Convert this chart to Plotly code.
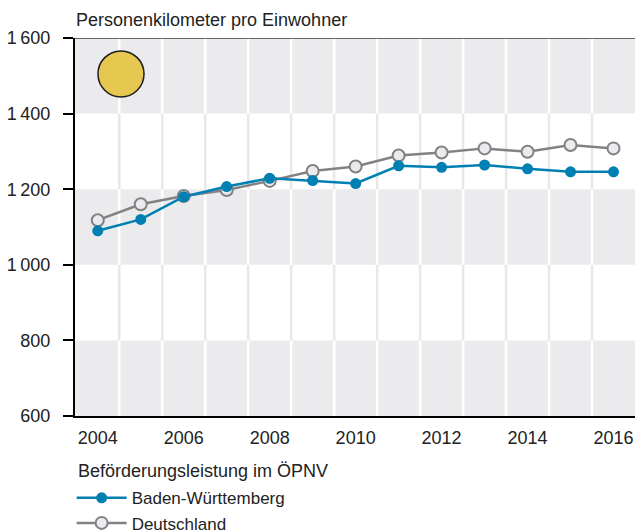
import plotly.graph_objects as go

years = list(range(2004, 2017))
bw = [1090, 1120, 1180, 1207, 1229, 1223, 1215, 1262, 1258, 1264, 1254, 1246, 1246]
de = [1118, 1160, 1182, 1198, 1222, 1248, 1260, 1289, 1297, 1308, 1299, 1317, 1308]

y_ticks = [600, 800, 1000, 1200, 1400, 1600]
y_ticktext = ["600", "800", "1\u2009000", "1\u2009200", "1\u2009400", "1\u2009600"]
x_ticks = [2004, 2006, 2008, 2010, 2012, 2014, 2016]

BLUE = "#0080b2"
GREY = "#828282"
BAND = "#ebebee"
FONT = "Liberation Sans, Arial, sans-serif"

x_min, x_max = 2003.47, 2016.5
y_min, y_max = 600, 1600

fig = go.Figure()

fig.add_trace(go.Scatter(
    x=years, y=de, name="Deutschland", mode="lines+markers",
    line=dict(color=GREY, width=2.5),
    marker=dict(size=12, color="#ebebef", line=dict(color=GREY, width=2)),
    legendrank=2,
))
fig.add_trace(go.Scatter(
    x=years, y=bw, name="Baden-Württemberg", mode="lines+markers",
    line=dict(color=BLUE, width=2.5),
    marker=dict(size=11, color=BLUE, line=dict(color=BLUE, width=0)),
    legendrank=1,
))

shapes = []
bands = [(y_ticks[i], y_ticks[i + 1]) for i in range(len(y_ticks) - 1)]
half_years = [y + 0.5 for y in years[:-1]]
for i, (b0, b1) in enumerate(bands):
    grey_band = (i % 2 == 0)
    if grey_band:
        shapes.append(dict(type="rect", xref="x", yref="y", x0=x_min, x1=x_max,
                           y0=b0, y1=b1, fillcolor=BAND, line=dict(width=0),
                           layer="below"))
    for hx in half_years:
        shapes.append(dict(type="line", xref="x", yref="y", x0=hx, x1=hx,
                           y0=b0, y1=b1,
                           line=dict(color="white" if grey_band else "#e8e8ea", width=2.5),
                           layer="below"))
# top border line
shapes.append(dict(type="line", xref="paper", yref="y", x0=0, x1=1, y0=y_max, y1=y_max,
                   line=dict(color="#3a3a3a", width=1.5)))
# yellow circle
shapes.append(dict(type="circle", xref="x", yref="y", xsizemode="pixel", ysizemode="pixel",
                   xanchor=2004.54, yanchor=1505, x0=-23, x1=23, y0=-23, y1=23,
                   fillcolor="#e6c850", line=dict(color="#1e1e1e", width=1.5)))

fig.update_layout(
    width=635, height=530,
    margin=dict(l=75, r=0, t=38, b=114, autoexpand=False),
    paper_bgcolor="white", plot_bgcolor="white",
    font=dict(family=FONT, size=18, color="#222222"),
    shapes=shapes,
    showlegend=True,
    legend=dict(
        x=-0.006, xanchor="left", y=-0.170, yanchor="top",
        font=dict(size=17), itemwidth=50, tracegroupgap=0,
        bgcolor="rgba(0,0,0,0)",
    ),
    annotations=[
        dict(text="Personenkilometer pro Einwohner", xref="paper", yref="paper",
             x=0, y=1, xanchor="left", yanchor="bottom", yshift=6, xshift=-1,
             showarrow=False, font=dict(size=18, color="#222222")),
        dict(text="Beförderungsleistung im ÖPNV", xref="paper", yref="paper",
             x=0, y=-0.146, xanchor="left", yanchor="middle", xshift=1,
             showarrow=False, font=dict(size=18, color="#222222")),
    ],
)

fig.update_xaxes(
    range=[x_min, x_max], tickvals=x_ticks, ticks="", showgrid=False,
    zeroline=False, showline=True, linecolor="black", linewidth=2,
    tickfont=dict(size=18), fixedrange=True, ticklabelstandoff=4, automargin=False,
)
fig.update_yaxes(
    range=[y_min, y_max], tickvals=y_ticks, ticktext=y_ticktext,
    ticks="outside", ticklen=10, tickwidth=2, tickcolor="black",
    showgrid=False, zeroline=False, showline=True, linecolor="black", linewidth=2,
    tickfont=dict(size=18), fixedrange=True, ticklabelstandoff=9, automargin=False,
)

fig.write_html(
    "out.html",
    config={"displayModeBar": False},
    post_script="document.body.style.margin='0';document.body.style.overflow='hidden';",
)
